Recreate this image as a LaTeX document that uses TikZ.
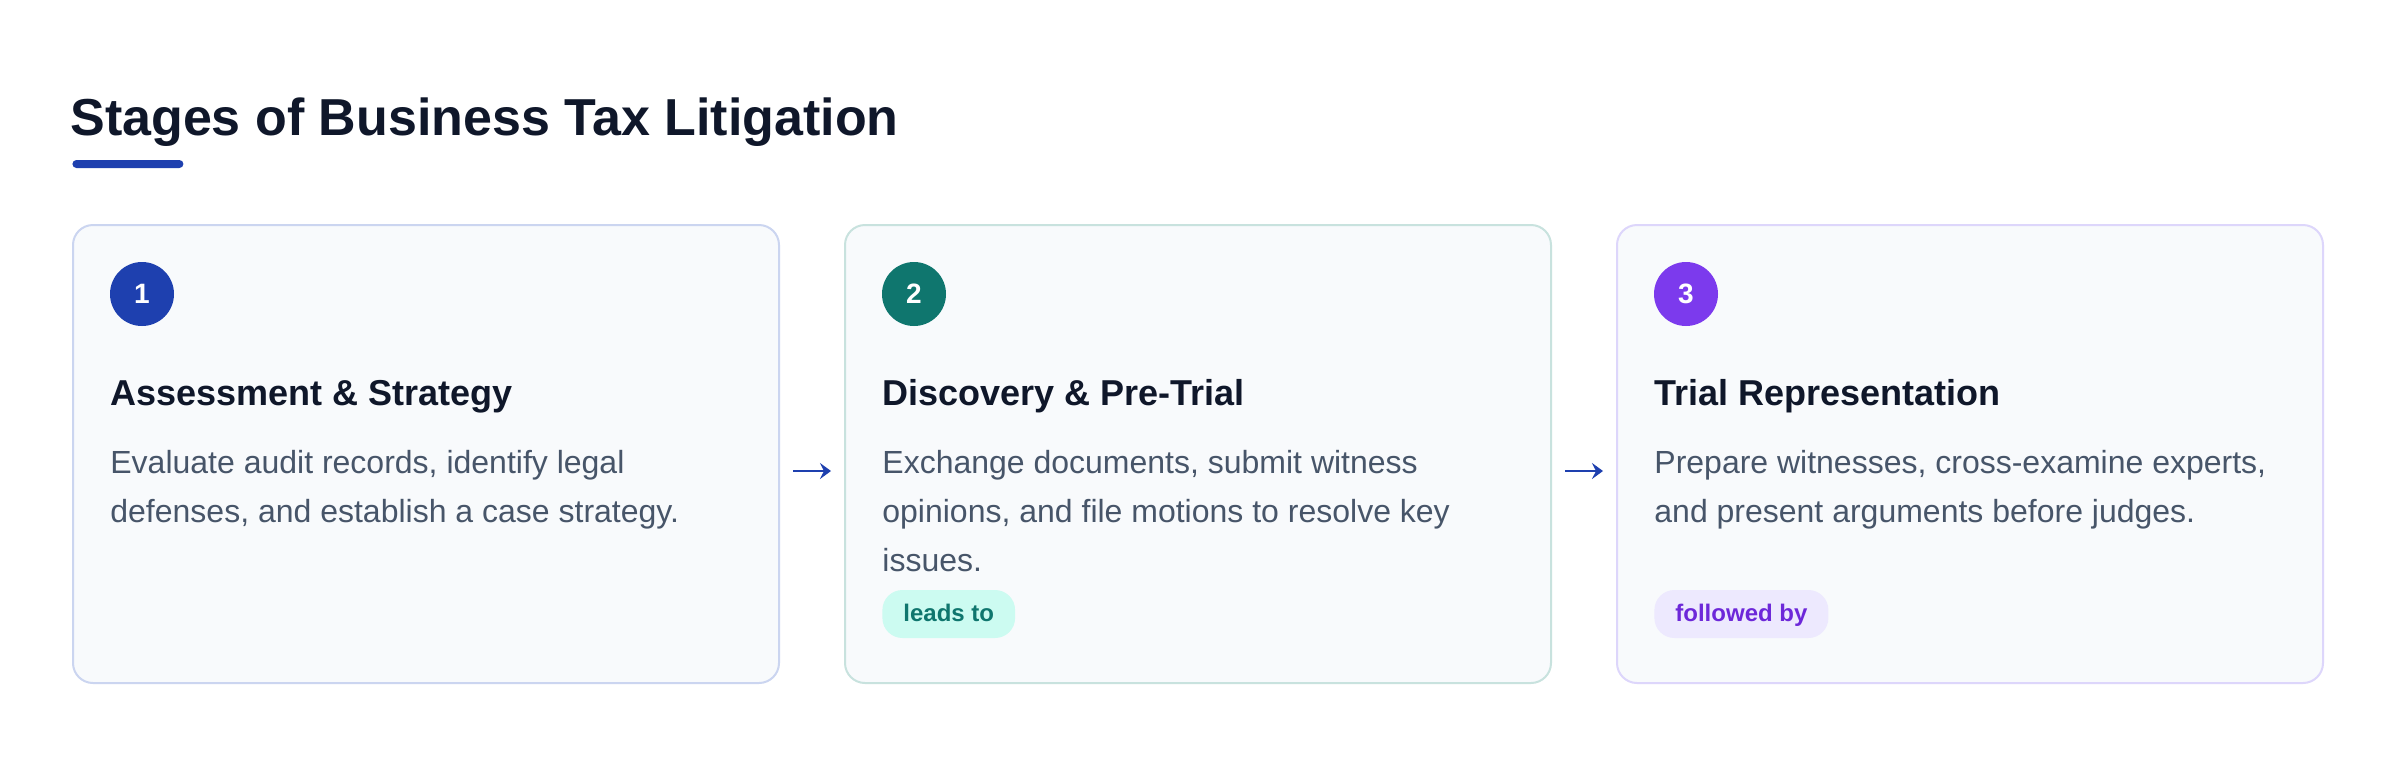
\documentclass[tikz,border=0pt]{standalone}
\usepackage{fontspec}
\setmainfont{Liberation Sans}
\usepackage{xcolor}
\usetikzlibrary{positioning, arrows.meta}

\definecolor{ink}{HTML}{0F172A}
\definecolor{bodygray}{HTML}{475569}
\definecolor{blueA}{HTML}{1E40AF}
\definecolor{tealA}{HTML}{0F766E}
\definecolor{violetA}{HTML}{7C3AED}
\definecolor{cardbg}{HTML}{F8FAFC}
\definecolor{bordA}{HTML}{CBD5F0}
\definecolor{bordB}{HTML}{C8E2DE}
\definecolor{bordC}{HTML}{DDD6FB}
\definecolor{tagbgB}{HTML}{CCFBF1}
\definecolor{tagfgB}{HTML}{0F766E}
\definecolor{tagbgC}{HTML}{EDE9FE}
\definecolor{tagfgC}{HTML}{6D28D9}

\begin{document}
\begin{tikzpicture}[x=0.5pt, y=-0.5pt,
    card/.style={draw, line width=1pt, rounded corners=10pt, fill=cardbg, minimum width=353pt, minimum height=229pt, inner sep=0pt},
    badge/.style={circle, minimum size=32pt, inner sep=0pt, text=white, font=\fontsize{14pt}{16pt}\selectfont\bfseries},
    head/.style={anchor=base west, inner sep=0pt, text=ink, font=\fontsize{18pt}{22pt}\selectfont\bfseries},
    body/.style={anchor=north west, inner sep=0pt, align=left, text=bodygray, font=\fontsize{16pt}{24.5pt}\selectfont},
    tag/.style={anchor=west, rounded corners=10pt, minimum height=24pt, inner xsep=10.5pt, inner ysep=0pt, text height=9pt, text depth=2pt, font=\fontsize{12pt}{14pt}\selectfont\bfseries},
    flow/.style={-{Stealth[length=5.5pt, width=8pt, inset=2pt]}, line width=1pt, draw=blueA, shorten <=6.5pt, shorten >=6.5pt}]
      \fill[white] (0,0) rectangle (2400,756);
      \useasboundingbox (0,0) rectangle (2400,756);

      \node[anchor=base west, inner sep=0pt, text=ink, font=\fontsize{26pt}{30pt}\selectfont\bfseries] (title) at (70,135) {Stages of Business Tax Litigation};
      \node[anchor=west, fill=blueA, rounded corners=2pt, minimum width=55.5pt, minimum height=4pt, inner sep=0pt] (bar) at (72,164) {};

      \node[card, draw=bordA]  (c1)  at ( 426, 454)  {};
      \node[card, draw=bordB]  (c2)  at (1198, 454)  {};
      \node[card, draw=bordC]  (c3)  at (1970, 454)  {};

      \node[badge, fill=blueA]    (n1)  at ( 142, 294)  {1};
      \node[badge, fill=tealA]    (n2)  at ( 914, 294)  {2};
      \node[badge, fill=violetA]  (n3)  at (1686, 294)  {3};

      \node[head]  (h1)  at ( 110, 405)  {Assessment \& Strategy};
      \node[head]  (h2)  at ( 882, 405)  {Discovery \& Pre-Trial};
      \node[head]  (h3)  at (1654, 405)  {Trial Representation};

      \node[body]  (b1)  at ( 110, 439)  {\strut Evaluate audit records, identify legal \\ defenses, and establish a case strategy.};
      \node[body]  (b2)  at ( 882, 439)  {\strut Exchange documents, submit witness \\ opinions, and file motions to resolve key \\ issues.};
      \node[body]  (b3)  at (1654, 439)  {\strut Prepare witnesses, cross-examine experts, \\ and present arguments before judges.};

      \node[tag, fill=tagbgB, text=tagfgB]  (t2)  at ( 882, 614)  {leads to};
      \node[tag, fill=tagbgC, text=tagfgC]  (t3)  at (1654, 614)  {followed by};

      \draw[flow] ([yshift=-8.5pt]c1.east) -- ([yshift=-8.5pt]c2.west);
      \draw[flow] ([yshift=-8.5pt]c2.east) -- ([yshift=-8.5pt]c3.west);
    \end{tikzpicture}
\end{document}
